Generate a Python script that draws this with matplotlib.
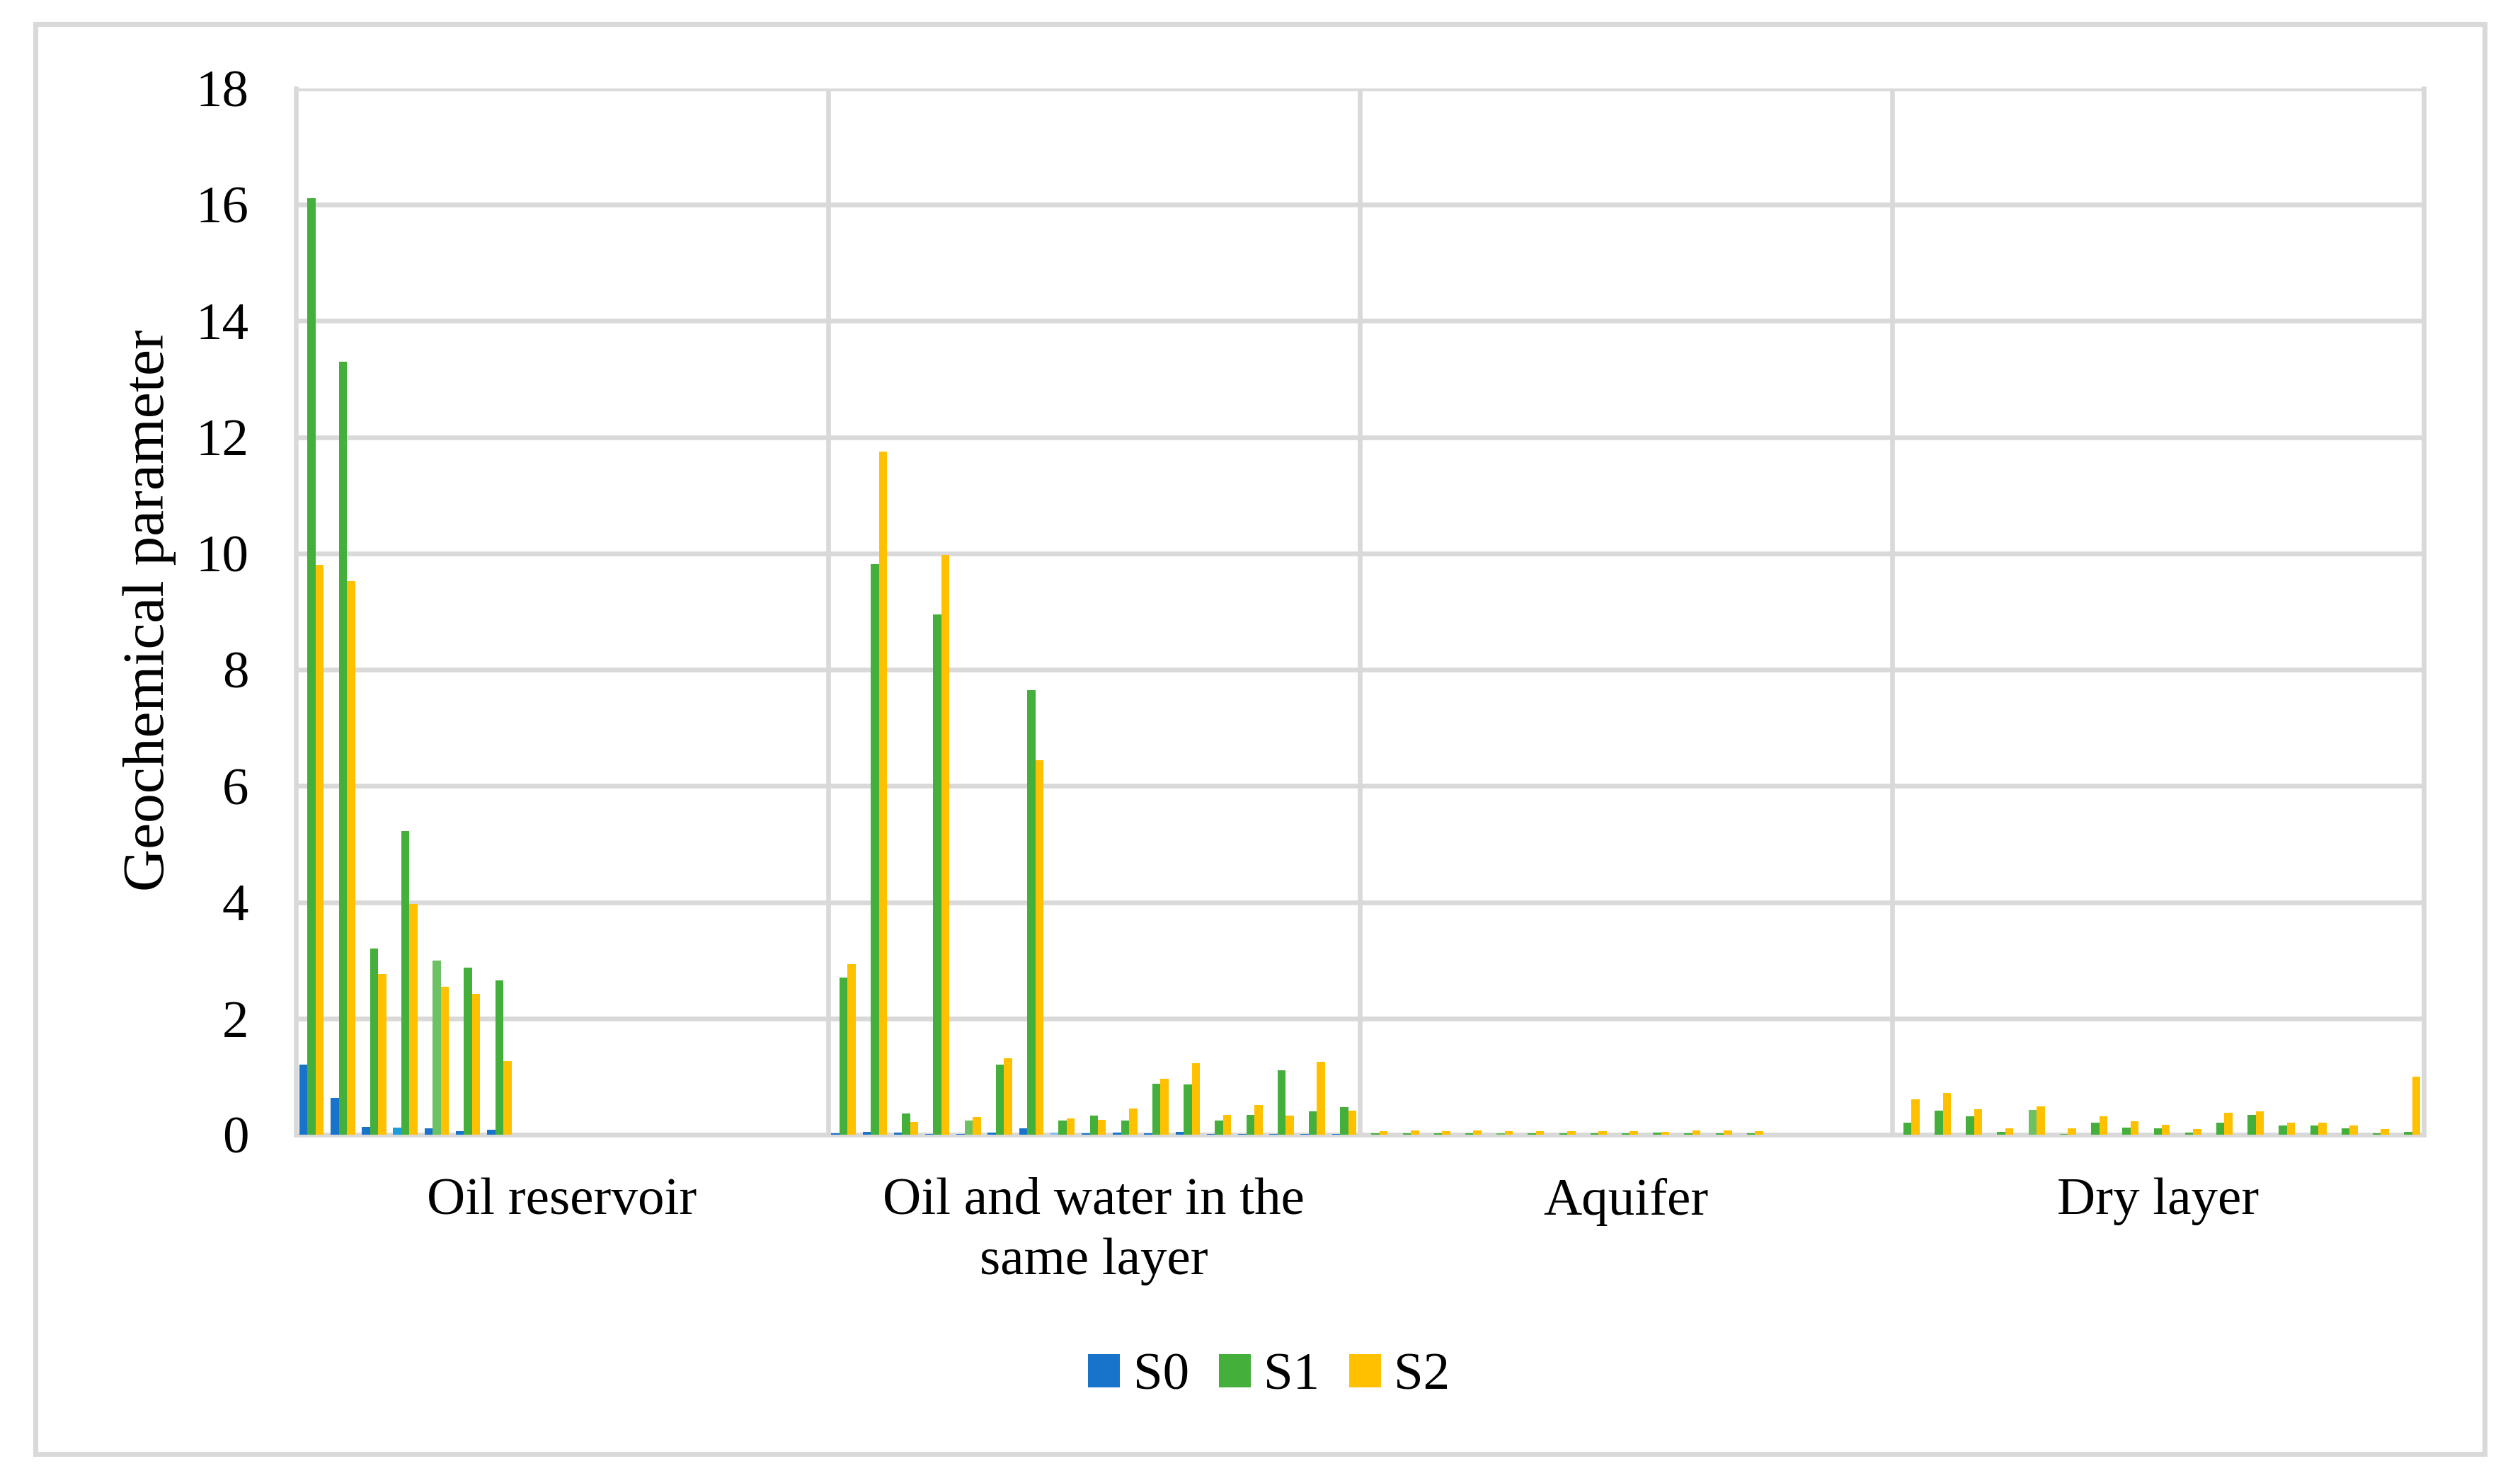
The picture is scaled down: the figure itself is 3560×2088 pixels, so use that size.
import numpy as np
import matplotlib.pyplot as plt
from matplotlib.patches import Rectangle

plt.rcParams['font.family'] = ['Liberation Serif', 'DejaVu Serif']

groups = ["Oil reservoir", "Oil and water in the\nsame layer", "Aquifer", "Dry layer"]
series = ["S0", "S1", "S2"]

# values per layer type, one entry per sample
oil_s0 = [1.20, 0.63, 0.13, 0.12, 0.11, 0.06, 0.09]
oil_s1 = [16.11, 13.30, 3.20, 5.23, 2.99, 2.87, 2.65]
oil_s2 = [9.80, 9.52, 2.77, 3.97, 2.55, 2.42, 1.27]

mix_s0 = [0.02, 0.05, 0.04, 0.01, 0.01, 0.04, 0.11, 0.04, 0.02, 0.04, 0.02, 0.05, 0.01, 0.01, 0.01, 0.01, 0.01]
mix_s1 = [2.70, 9.81, 0.36, 8.95, 0.24, 1.21, 7.65, 0.24, 0.33, 0.24, 0.88, 0.87, 0.24, 0.34, 1.11, 0.40, 0.48]
mix_s2 = [2.93, 11.75, 0.22, 9.98, 0.30, 1.32, 6.44, 0.28, 0.25, 0.45, 0.96, 1.23, 0.34, 0.51, 0.33, 1.26, 0.41]

aq_s0 = [0.0] * 13
aq_s1 = [0.02, 0.02, 0.02, 0.02, 0.02, 0.02, 0.02, 0.02, 0.02, 0.04, 0.02, 0.02, 0.02]
aq_s2 = [0.06, 0.07, 0.06, 0.07, 0.06, 0.06, 0.06, 0.06, 0.06, 0.05, 0.07, 0.07, 0.06]

dry_s0 = [0.0] * 17
dry_s1 = [0.21, 0.41, 0.32, 0.05, 0.43, 0.01, 0.21, 0.12, 0.11, 0.04, 0.21, 0.34, 0.16, 0.16, 0.11, 0.02, 0.05]
dry_s2 = [0.61, 0.72, 0.44, 0.11, 0.49, 0.11, 0.32, 0.23, 0.17, 0.10, 0.38, 0.40, 0.21, 0.21, 0.16, 0.10, 1.00]

data = [
    [oil_s0, oil_s1, oil_s2],
    [mix_s0, mix_s1, mix_s2],
    [aq_s0, aq_s1, aq_s2],
    [dry_s0, dry_s1, dry_s2],
]

slots = 17
colors = ["#1874CA", "#44AF3B", "#FFC000"]
grid_c = "#D9D9D9"
bw = 0.26

fig = plt.figure(figsize=(3560 / 300, 2088 / 300), dpi=300)
ax = fig.add_axes([418 / 3560, 1 - 1603 / 2088, (3424 - 418) / 3560, (1603 - 125) / 2088])

for g, vals in enumerate(data):
    for k, v in enumerate(vals):
        x = g * slots + np.arange(len(v)) + 0.5 + (k - 1) * bw
        cols = [colors[k]] * len(v)
        # a few points carry a lighter fill in the original
        if k == 1 and len(v) > 4:
            cols[4] = "#6CC163"
        if k == 0 and g == 0:
            cols[3] = "#1A9FDB"
        if k == 0 and g == 1:
            cols[7] = "#86BDE8"
        ax.bar(x, v, width=bw, color=cols, zorder=3,
               label=series[k] if g == 0 else None)

ax.set_xlim(0, slots * len(groups))
ax.set_ylim(0, 18)
ax.set_yticks(np.arange(0, 19, 2))
ax.set_xticks([])
ax.tick_params(axis='y', length=0, pad=16, labelsize=18)
ax.yaxis.grid(True, color=grid_c, linewidth=1.6, zorder=0)
ax.set_axisbelow(True)
for b in range(1, len(groups)):
    ax.axvline(b * slots, color=grid_c, linewidth=1.6, zorder=1)
ax.spines['top'].set_visible(False)
for s in ['left', 'right', 'bottom']:
    ax.spines[s].set_color(grid_c)
    ax.spines[s].set_linewidth(1.6)

for g, name in enumerate(groups):
    ax.text(g * slots + slots / 2, -0.041, name, transform=ax.get_xaxis_transform(),
            ha='center', va='top', fontsize=18, linespacing=1.33)

fig.text(211 / 3560, 1 - 862 / 2088, "Geochemical parameter", rotation=90,
         ha='center', va='center', fontsize=20)

fig.legend(loc='center', bbox_to_anchor=(1793 / 3560, 1 - 1945 / 2088), ncol=3,
           frameon=False, fontsize=18, handlelength=0.6, handleheight=0.6,
           handletextpad=0.25, columnspacing=0.55)

fig.patches.append(Rectangle((50 / 3560, 1 - 2054 / 2088), 3460 / 3560, 2020 / 2088,
                             transform=fig.transFigure, fill=False,
                             edgecolor=grid_c, linewidth=1.7))

fig.savefig("out.png", dpi=300, facecolor='white')
